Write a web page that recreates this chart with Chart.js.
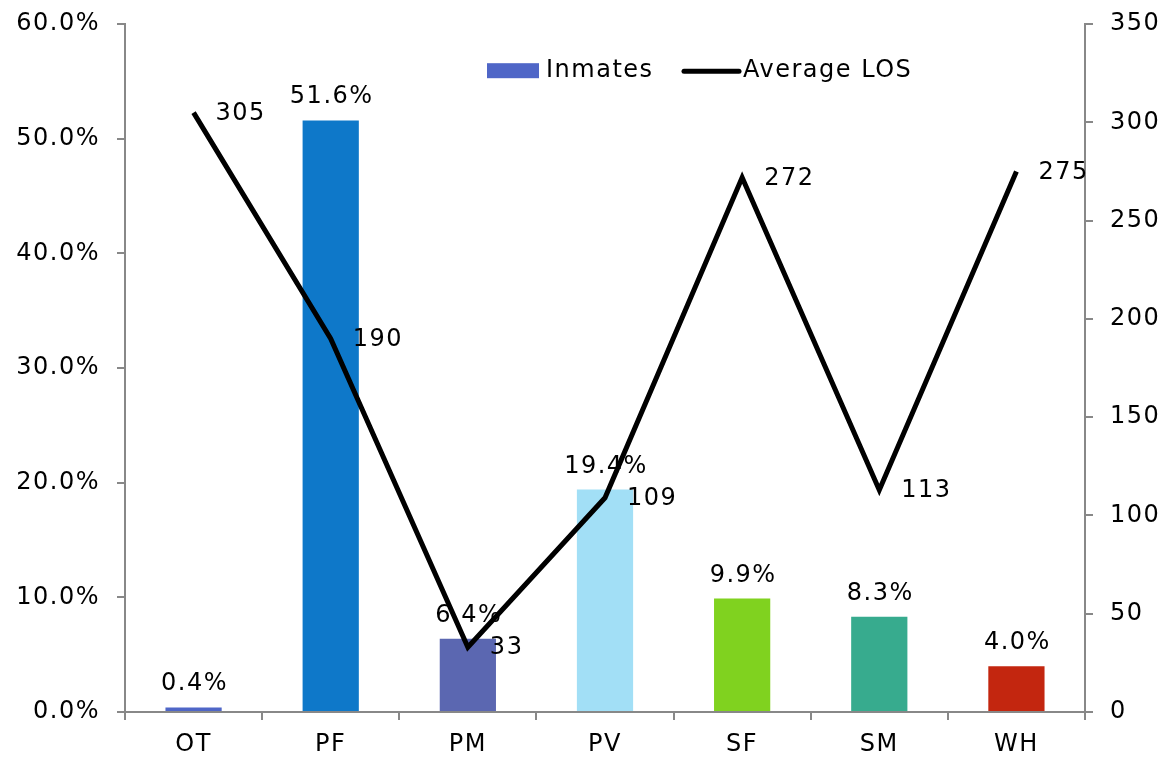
<!DOCTYPE html>
<html>
<head>
<meta charset="utf-8">
<script src="https://cdn.jsdelivr.net/npm/chart.js@4"></script>
<style>
html,body{margin:0;padding:0;background:#fff;}
#wrap{width:1165px;height:761px;position:relative;}
</style>
</head>
<body>
<div id="wrap"><canvas id="c" width="1165" height="761"></canvas></div>
<script>
const categories = ['OT','PF','PM','PV','SF','SM','WH'];
const inmatesPct = [0.4, 51.6, 6.4, 19.4, 9.9, 8.3, 4.0];
const averageLOS = [305, 190, 33, 109, 272, 113, 275];
const barColors = ['#4F66C7','#0E78C9','#5B67B1','#A2DFF6','#80D21F','#37AB8E','#C3260F'];
const leftTicks = [0,10,20,30,40,50,60];
const rightTicks = [0,50,100,150,200,250,300,350];

const FONT = 'DejaVu Sans, Verdana, sans-serif';
const FS = 24;
const SPACING = '1.5px';
Chart.defaults.font.family = FONT;
Chart.defaults.font.size = FS;
Chart.defaults.color = '#000';

const spacingPlugin = {
  id: 'spacing',
  beforeInit(chart) { chart.ctx.letterSpacing = SPACING; },
  beforeLayout(chart) { chart.ctx.letterSpacing = SPACING; },
  beforeDraw(chart) { chart.ctx.letterSpacing = SPACING; }
};

const labelPlugin = {
  id: 'labels',
  afterDatasetsDraw(chart) {
    const ctx = chart.ctx;
    ctx.save();
    ctx.letterSpacing = SPACING;
    ctx.font = FS + 'px ' + FONT;
    ctx.fillStyle = '#000';
    const barMeta = chart.getDatasetMeta(1);
    barMeta.data.forEach((el, i) => {
      ctx.textAlign = 'center';
      ctx.textBaseline = 'alphabetic';
      ctx.fillText(inmatesPct[i].toFixed(1) + '%', el.x + 1, el.y - 17);
    });
    const lineMeta = chart.getDatasetMeta(0);
    lineMeta.data.forEach((el, i) => {
      ctx.textAlign = 'left';
      ctx.textBaseline = 'middle';
      ctx.fillText(String(averageLOS[i]), el.x + 22, el.y + 1);
    });
    ctx.restore();
  },
  afterDraw(chart) {
    const ctx = chart.ctx;
    const a = chart.chartArea;
    const bar = chart.data.datasets[1];
    const line = chart.data.datasets[0];
    ctx.save();
    ctx.letterSpacing = SPACING;
    ctx.font = FS + 'px ' + FONT;
    const y = a.top + 47;
    let x = a.left + 362;
    ctx.fillStyle = bar.legendColor;
    ctx.fillRect(x, y - 8, 52, 15);
    ctx.fillStyle = '#000';
    ctx.textAlign = 'left';
    ctx.textBaseline = 'middle';
    ctx.fillText(bar.label, x + 59, y);
    x = a.left + 559;
    ctx.strokeStyle = '#000';
    ctx.lineWidth = 5;
    ctx.lineCap = 'round';
    ctx.beginPath();
    ctx.moveTo(x, y);
    ctx.lineTo(x + 55, y);
    ctx.stroke();
    ctx.fillText(line.label, x + 59, y);
    ctx.restore();
  }
};

new Chart(document.getElementById('c'), {
  data: {
    labels: categories,
    datasets: [
      {
        type: 'line',
        label: 'Average LOS',
        data: averageLOS,
        yAxisID: 'y1',
        borderColor: '#000',
        borderWidth: 5,
        pointRadius: 0,
        tension: 0,
        fill: false,
        order: 0
      },
      {
        type: 'bar',
        label: 'Inmates',
        data: inmatesPct,
        yAxisID: 'y',
        backgroundColor: barColors,
        legendColor: '#4F66C7',
        categoryPercentage: 1,
        barPercentage: 0.41,
        order: 1
      }
    ]
  },
  options: {
    responsive: false,
    animation: false,
    layout: { padding: { top: 22, left: 0, right: 0, bottom: 0 } },
    plugins: { legend: { display: false }, tooltip: { enabled: false } },
    scales: {
      x: {
        grid: { display: true, drawOnChartArea: false, tickLength: 8, color: '#888', offset: true, lineWidth: 2 },
        border: { color: '#888', width: 2 },
        ticks: { padding: 10, font: { size: FS } },
        afterFit(s) { s.height = 49; }
      },
      y: {
        position: 'left',
        min: 0, max: 60,
        afterBuildTicks(s) { s.ticks = leftTicks.map(v => ({ value: v })); },
        ticks: { padding: 17, font: { size: FS, lineHeight: 0.6 }, callback: v => v.toFixed(1) + '%' },
        grid: { drawOnChartArea: false, tickLength: 8, color: '#888', lineWidth: 2 },
        border: { color: '#888', width: 2 },
        afterFit(s) { s.width = 125; }
      },
      y1: {
        position: 'right',
        min: 0, max: 350,
        afterBuildTicks(s) { s.ticks = rightTicks.map(v => ({ value: v })); },
        ticks: { padding: 17, font: { size: FS, lineHeight: 0.6 } },
        grid: { drawOnChartArea: false, tickLength: 8, color: '#888', lineWidth: 2 },
        border: { color: '#888', width: 2 },
        afterFit(s) { s.width = 80; }
      }
    }
  },
  plugins: [spacingPlugin, labelPlugin]
});
</script>
</body>
</html>
